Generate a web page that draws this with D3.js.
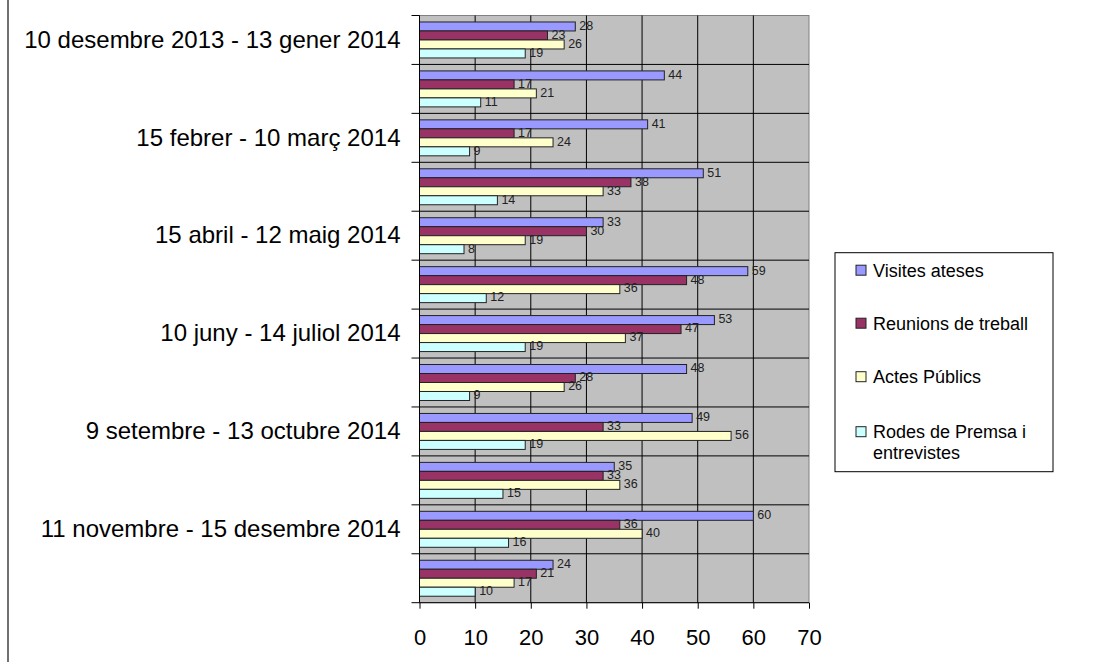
<!DOCTYPE html>
<html>
<head>
<meta charset="utf-8">
<script src="https://cdn.jsdelivr.net/npm/d3@7"></script>
<style>
  body { margin: 0; background: #fff; }
  svg { font-family: Arial, "Liberation Sans", sans-serif; display: block; }
</style>
</head>
<body>
<div class="container"></div>
<script>
const WIDTH = 1113;
const HEIGHT = 662;
const MARGIN = {top: 15.5, right: 304, bottom: 59.3, left: 419.5};
const INNER_WIDTH = WIDTH - MARGIN.left - MARGIN.right;
const INNER_HEIGHT = HEIGHT - MARGIN.top - MARGIN.bottom;

// only every other period name is printed on the chart
var categories = [
  '10 desembre 2013 - 13 gener 2014', '',
  '15 febrer - 10 març 2014', '',
  '15 abril - 12 maig 2014', '',
  '10 juny - 14 juliol 2014', '',
  '9 setembre - 13 octubre 2014', '',
  '11 novembre - 15 desembre 2014', ''
];
var seriesNames = ['Visites ateses', 'Reunions de treball', 'Actes Públics', 'Rodes de Premsa i entrevistes'];
var visites  = [28, 44, 41, 51, 33, 59, 53, 48, 49, 35, 60, 24];
var reunions = [23, 17, 17, 38, 30, 48, 47, 28, 33, 33, 36, 21];
var actes    = [26, 21, 24, 33, 19, 36, 37, 26, 56, 36, 40, 17];
var rodes    = [19, 11,  9, 14,  8, 12, 19,  9, 19, 15, 16, 10];
var xTicks = [0, 10, 20, 30, 40, 50, 60, 70];
var colors = ['#9999ff', '#993366', '#ffffcc', '#ccffff'];

var translate = function(x, y){
  return 'translate('+x+','+y+')';
};

var allSeries = [visites, reunions, actes, rodes];
var rows = categories.map(function(c, i){
  return {key: i, label: c, values: allSeries.map(function(s, j){ return {s: j, v: s[i]}; })};
});

var svg = d3.select('.container').append('svg')
  .attr('width', WIDTH)
  .attr('height', HEIGHT);

// outer frame line on the left
svg.append('line')
  .attr('x1', 8).attr('x2', 8).attr('y1', 0).attr('y2', HEIGHT)
  .attr('stroke', '#404040').attr('stroke-width', 1.5);

var x = d3.scaleLinear().domain([0, 70]).range([0, INNER_WIDTH]);
var y0 = d3.scaleBand().domain(d3.range(categories.length)).range([0, INNER_HEIGHT]);
var y1 = d3.scaleBand().domain(d3.range(4)).range([0, y0.bandwidth()]).paddingOuter(0.72);

var g = svg.append('g').attr('transform', translate(MARGIN.left, MARGIN.top));

g.append('rect')
  .attr('width', INNER_WIDTH).attr('height', INNER_HEIGHT)
  .attr('fill', '#c0c0c0').attr('stroke', '#808080');

// vertical grid
g.append('g')
  .selectAll('line')
  .data(xTicks.slice(1, -1))
  .enter().append('line')
  .attr('x1', function(d){ return x(d); }).attr('x2', function(d){ return x(d); })
  .attr('y1', 0).attr('y2', INNER_HEIGHT)
  .attr('stroke', '#000');

// horizontal lines between categories
var bounds = d3.range(categories.length + 1).map(function(i){ return i * y0.step(); });
g.append('g')
  .selectAll('line')
  .data(bounds.slice(1, -1))
  .enter().append('line')
  .attr('x1', 0).attr('x2', INNER_WIDTH)
  .attr('y1', function(d){ return d; }).attr('y2', function(d){ return d; })
  .attr('stroke', '#000');

var groups = g.selectAll('.grp')
  .data(rows)
  .enter().append('g')
  .attr('transform', function(d){ return translate(0, y0(d.key)); });

groups.selectAll('rect')
  .data(function(d){ return d.values; })
  .enter().append('rect')
  .attr('x', 0)
  .attr('y', function(d){ return y1(d.s); })
  .attr('width', function(d){ return x(d.v); })
  .attr('height', y1.bandwidth())
  .attr('fill', function(d){ return colors[d.s]; })
  .attr('stroke', '#222')
  .attr('stroke-width', 1);

groups.selectAll('text')
  .data(function(d){ return d.values; })
  .enter().append('text')
  .attr('x', function(d){ return x(d.v) + 4; })
  .attr('y', function(d){ return y1(d.s) + y1.bandwidth() / 2 - 1; })
  .attr('dy', '0.35em')
  .attr('font-size', 12.5)
  .attr('fill', '#222')
  .text(function(d){ return d.v; });

// x axis
var xAxis = d3.axisBottom(x).tickValues(xTicks).tickSize(6).tickPadding(21);
var xg = g.append('g')
  .attr('transform', translate(0, INNER_HEIGHT))
  .call(xAxis);
xg.select('.domain').attr('stroke', '#000').attr('d', 'M0,0H' + INNER_WIDTH);
xg.selectAll('.tick line').attr('stroke', '#000');
xg.selectAll('.tick text').attr('font-size', 22).attr('fill', '#000')
  .attr('font-family', 'Arial, "Liberation Sans", sans-serif');

// y axis: category labels centred on bands, ticks on boundaries
var yAxis = d3.axisLeft(y0).tickSize(0).tickPadding(19)
  .tickFormat(function(i){ return categories[i]; });
var yg = g.append('g').call(yAxis);
yg.select('.domain').remove();
yg.selectAll('.tick text').attr('font-size', 24).attr('fill', '#000')
  .attr('font-family', 'Arial, "Liberation Sans", sans-serif');

g.append('line')
  .attr('x1', 0).attr('x2', 0).attr('y1', 0).attr('y2', INNER_HEIGHT)
  .attr('stroke', '#000');
g.append('g')
  .selectAll('line')
  .data(bounds)
  .enter().append('line')
  .attr('x1', -8).attr('x2', 0)
  .attr('y1', function(d){ return d; }).attr('y2', function(d){ return d; })
  .attr('stroke', '#000');

// legend
var legend = svg.append('g').attr('transform', translate(835, 252.7));
legend.append('rect')
  .attr('width', 218).attr('height', 219)
  .attr('fill', '#fff').attr('stroke', '#000');

var legendY = [17.5, 70.5, 124, 179];
var items = legend.selectAll('.item')
  .data(seriesNames)
  .enter().append('g')
  .attr('transform', function(d, i){ return translate(21, legendY[i]); });
items.append('rect')
  .attr('x', 0).attr('y', -5)
  .attr('width', 10).attr('height', 10)
  .attr('fill', function(d, i){ return colors[i]; })
  .attr('stroke', '#222');
items.append('text')
  .attr('x', 17)
  .attr('font-size', 18)
  .attr('fill', '#000')
  .each(function(d){
    var words = d === 'Rodes de Premsa i entrevistes' ? ['Rodes de Premsa i', 'entrevistes'] : [d];
    var t = d3.select(this);
    words.forEach(function(w, k){
      t.append('tspan').attr('x', 17).attr('y', k * 21.5).attr('dy', '0.35em').text(w);
    });
  });
</script>
</body>
</html>
